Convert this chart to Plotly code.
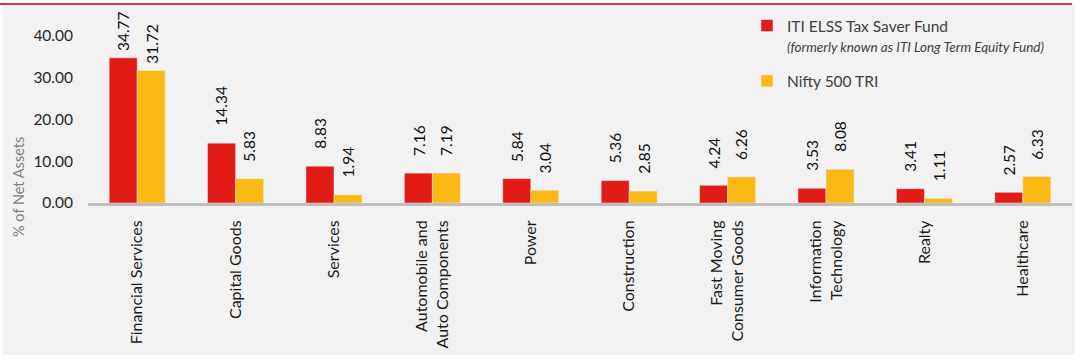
import plotly.graph_objects as go

categories = ["Financial Services", "Capital Goods", "Services",
              "Automobile and<br>Auto Components", "Power", "Construction",
              "Fast Moving<br>Consumer Goods", "Information<br>Technology",
              "Realty", "Healthcare"]
fund_name = "ITI ELSS Tax Saver Fund"
fund_note = "(formerly known as ITI Long Term Equity Fund)"
bench_name = "Nifty 500 TRI"
fund_values = [34.77, 14.34, 8.83, 7.16, 5.84, 5.36, 4.24, 3.53, 3.41, 2.57]
bench_values = [31.72, 5.83, 1.94, 7.19, 3.04, 2.85, 6.26, 8.08, 1.11, 6.33]
y_ticks = [0, 10, 20, 30, 40]
y_title = "% of Net Assets"

RED = "#E31B17"
YELLOW = "#FDB913"
BG = "#F2F2F2"
FONT = "Lato"

W, H = 1080, 364
ML, MR, MT, MB = 88, 8, 36, 161
PW = W - ML - MR
PH = H - MT - MB


def px_x(px):
    return (px - ML) / PW


def px_y(py):
    return (H - MB - py) / PH


fig = go.Figure()
fig.add_trace(go.Bar(
    x=categories, y=fund_values,
    name=f"{fund_name}<br><i><span style='font-size:13.5px'>{fund_note}</span></i>",
    marker_color=RED, legendgroup="a"))
fig.add_trace(go.Bar(
    x=categories, y=bench_values, name=bench_name,
    marker_color=YELLOW, legendgroup="b"))

annotations = []
for i, cat in enumerate(categories):
    gmax = max(fund_values[i], bench_values[i])
    shift = 5 if gmax > 30 else 15
    for vals, dx in ((fund_values, -14), (bench_values, 14)):
        annotations.append(dict(
            x=cat, y=vals[i], xref="x", yref="y", text=f"{vals[i]:.2f}",
            showarrow=False, textangle=-90, xanchor="center", yanchor="bottom",
            xshift=dx, yshift=shift,
            font=dict(family=FONT, size=15.5, color="#111111")))

annotations.append(dict(
    x=px_x(18), y=px_y(187), xref="paper", yref="paper", text=y_title,
    showarrow=False, textangle=-90, xanchor="center", yanchor="middle",
    font=dict(family=FONT, size=14.5, color="#7F7F7F")))

shapes = [
    dict(type="rect", xref="paper", yref="paper", x0=px_x(-2), x1=px_x(W + 2),
         y0=px_y(-2), y1=px_y(3.5), fillcolor="white", line_width=0,
         layer="above"),
    dict(type="line", xref="paper", yref="paper", x0=px_x(0), x1=px_x(1072),
         y0=px_y(4), y1=px_y(4), line=dict(color="#C00000", width=1.5)),
    dict(type="rect", xref="paper", yref="paper", x0=px_x(-2), x1=px_x(W + 2),
         y0=px_y(355), y1=px_y(H + 2), fillcolor="white", line_width=0,
         layer="above"),
    dict(type="rect", xref="paper", yref="paper", x0=px_x(1075), x1=px_x(W + 2),
         y0=px_y(-2), y1=px_y(H + 2), fillcolor="white", line_width=0,
         layer="above"),
    dict(type="rect", xref="paper", yref="paper", x0=px_x(-2), x1=px_x(3),
         y0=px_y(5), y1=px_y(H + 2), fillcolor="white", line_width=0,
         layer="above"),
]

fig.update_layout(
    width=W, height=H, autosize=False,
    margin=dict(l=ML, r=MR, t=MT, b=MB, pad=0, autoexpand=False),
    paper_bgcolor=BG, plot_bgcolor=BG,
    barmode="group", bargap=0.43, bargroupgap=0,
    font=dict(family=FONT, size=15, color="#262626"),
    showlegend=True,
    legend=dict(x=px_x(747), y=px_y(9), xanchor="left", yanchor="top",
                bgcolor="rgba(0,0,0,0)", valign="top", tracegroupgap=12,
                font=dict(family=FONT, size=15.5, color="#404040")),
    annotations=annotations,
    shapes=shapes,
)
fig.update_xaxes(
    showline=True, linecolor="#BFBFBF", linewidth=3, tickangle=-90,
    ticks="", ticklabelstandoff=8, showgrid=False, automargin=False,
    tickfont=dict(family=FONT, size=16, color="#1A1A1A"),
    fixedrange=True)
fig.update_yaxes(
    range=[0, 40], tickvals=y_ticks, tickformat=".2f", showgrid=False,
    zeroline=False, showline=False, ticks="", ticklabelstandoff=14,
    automargin=False,
    tickfont=dict(family=FONT, size=15.5, color="#262626"),
    fixedrange=True)

fig.write_html("out.html", config={"displayModeBar": False},
               post_script="document.body.style.margin='0';")
